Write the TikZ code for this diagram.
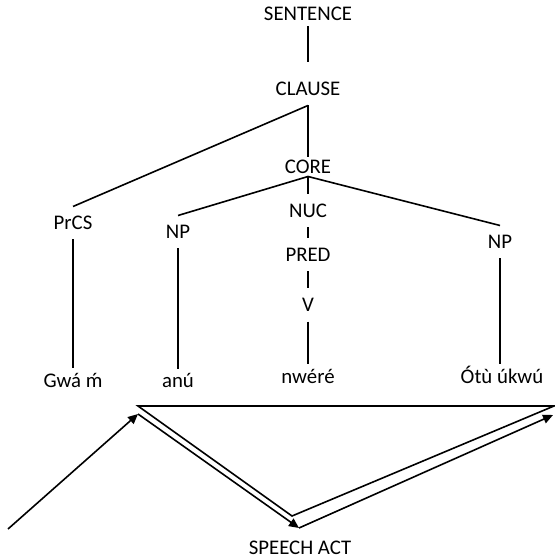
\documentclass[tikz,border=0pt]{standalone}
\usepackage{fontspec}
\setmainfont{Carlito}
\usepackage{tikz}
\usetikzlibrary{arrows.meta,positioning}
\tikzset
{
	rrgnode/.style = {align=center, inner sep=0pt, text height=6.5pt, text depth=0pt, outer ysep=5pt, font=\fontsize{10.4}{12}\selectfont},
	wordnode/.style = {rrgnode, outer ysep=3pt},
	branch/.style   = {line width=0.8pt},
	speech/.style   = {line width=0.8pt, -{Triangle[length=5pt,width=4.5pt]}}
}

\begin{document}
\begin{tikzpicture}[x=0.5pt, y=-0.5pt]
\useasboundingbox (0,0) rectangle (554,560);
% layered structure of the clause
\node[rrgnode] (sentence) at (308,14) {SENTENCE};
\node[rrgnode] (clause) at (308,89) {CLAUSE};
\node[rrgnode, outer ysep=1.5pt] (core) at (308,167) {CORE};
\node[rrgnode] (prcs) at (73,223) {PrCS};
\node[rrgnode] (np1) at (178,232) {NP};
\node[rrgnode] (nuc) at (308,211) {NUC};
\node[rrgnode] (np2) at (500,242) {NP};
\node[rrgnode] (pred) at (308,255) {PRED};
\node[rrgnode] (v) at (308,305) {V};
% the words
\node[wordnode] (gwa) at (73,380.5) {Gwá ḿ};
\node[wordnode] (anu) at (178,381) {anú};
\node[wordnode] (nwere) at (308,376.5) {nwéré};
\node[wordnode] (otu) at (502,376.5) {Ótù úkwú};

\draw[branch, shorten <=-2pt, shorten >=5pt] (sentence) -- (clause);
\draw[branch] (clause) -- (core);
\draw[branch] (clause.south) -- (prcs.north);
\draw[branch] (core.south) -- (np1.north);
\draw[branch] (core) -- (nuc);
\draw[branch] (core.south) -- (np2.north);
\draw[branch] (nuc) -- (pred);
\draw[branch] (pred) -- (v);
\draw[branch] (v) -- (nwere);
\draw[branch] (prcs) -- (gwa);
\draw[branch] (np1) -- (anu);
\draw[branch] (np2.south) -- (np2.south |- otu.north);

% speech act
\node[rrgnode] (speechact) at (300,548) {SPEECH ACT};
\coordinate (start) at (8,529);
\coordinate (peak) at (138,414);
\coordinate (peaktop) at (138,406);
\coordinate (trough) at (299,528);
\coordinate (troughtop) at (292,516);
\coordinate (edge) at (553,415);
\coordinate (edgetop) at (554,406);
\draw[branch] (peaktop) -- (edgetop) -- (troughtop) -- cycle;
\draw[speech] (start) -- (peak);
\draw[speech] (peak) -- (trough);
\draw[speech] (trough) -- (edge);
\end{tikzpicture}
\end{document}
